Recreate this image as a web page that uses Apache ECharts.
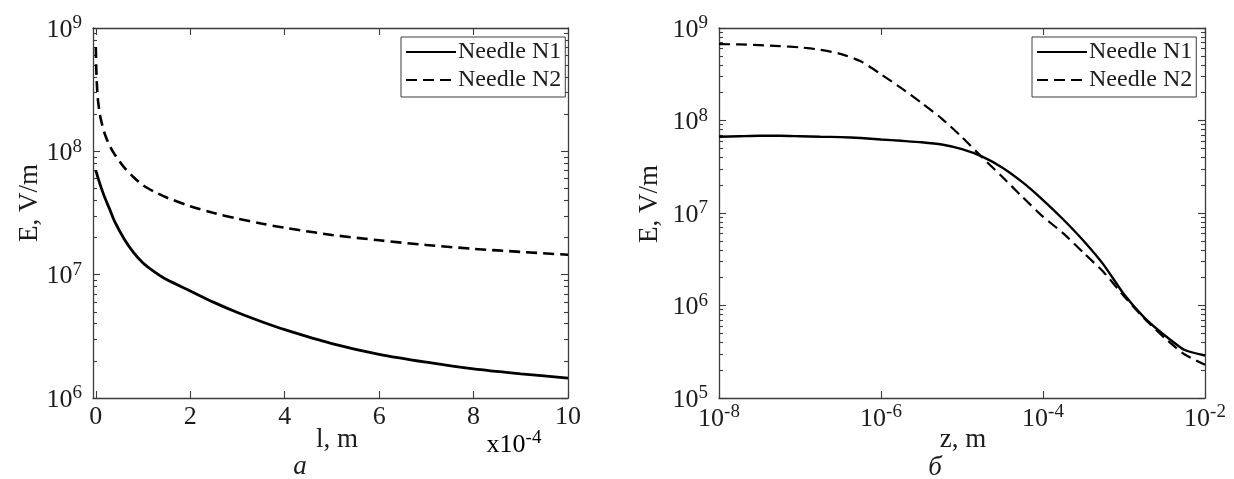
<!DOCTYPE html>
<html>
<head>
<meta charset="utf-8">
<script src="https://cdn.jsdelivr.net/npm/echarts@6/dist/echarts.min.js"></script>
<style>
  html, body { margin: 0; padding: 0; background: #ffffff; }
  #chart { width: 1234px; height: 479px; }
</style>
</head>
<body>
<div id="chart"></div>
<script>
// ---- Panel (а): field along the needle, l in units of 1e-4 m ----
const lenA = [0, 0.01, 0.03, 0.05, 0.1, 0.2, 0.3, 0.4, 0.6, 0.8, 1, 1.25, 1.5, 2, 2.5, 3, 3.5, 4, 5, 6, 7, 8, 9, 10];
const needle1A = [7.0e7, 6.79e7, 6.4e7, 6.03e7, 5.25e7, 4.12e7, 3.35e7, 2.69e7, 1.95e7, 1.51e7, 1.245e7, 1.05e7,
  9.12e6, 7.38e6, 5.96e6, 4.93e6, 4.17e6, 3.58e6, 2.76e6, 2.26e6, 1.95e6, 1.72e6, 1.57e6, 1.45e6];
const needle2A = [7.0e8, 4.57e8, 3.09e8, 2.51e8, 1.86e8, 1.35e8, 1.10e8, 9.44e7, 7.41e7, 6.17e7, 5.31e7, 4.68e7,
  4.22e7, 3.59e7, 3.16e7, 2.85e7, 2.60e7, 2.40e7, 2.10e7, 1.90e7, 1.74e7, 1.62e7, 1.53e7, 1.45e7];
const lenTicks = [0, 2, 4, 6, 8, 10];
const decadesA = [6, 7, 8, 9];

// ---- Panel (б): field versus distance z from the tip, m ----
const distZ = [1e-8, 1.78e-8, 3.16e-8, 5.62e-8, 1e-7, 1.78e-7, 3.16e-7, 5.62e-7, 1e-6, 1.78e-6, 3.16e-6, 5.62e-6,
  1e-5, 1.78e-5, 3.16e-5, 5.62e-5, 1e-4, 1.78e-4, 3.16e-4, 5.62e-4, 1e-3, 1.78e-3, 3.16e-3, 5.62e-3, 1e-2];
const needle1B = [6.68e7, 6.76e7, 6.84e7, 6.84e7, 6.76e7, 6.68e7, 6.61e7, 6.46e7, 6.24e7, 6.03e7, 5.82e7, 5.50e7,
  4.90e7, 4.07e7, 3.09e7, 2.14e7, 1.38e7, 8.51e6, 5.01e6, 2.75e6, 1.32e6, 7.41e5, 4.79e5, 3.30e5, 2.88e5];
const needle2B = [6.70e8, 6.64e8, 6.53e8, 6.38e8, 6.17e8, 5.82e8, 5.25e8, 4.37e8, 3.16e8, 2.24e8, 1.55e8, 1.05e8,
  6.61e7, 3.98e7, 2.45e7, 1.48e7, 9.12e6, 6.03e6, 3.72e6, 2.29e6, 1.26e6, 7.24e5, 4.47e5, 2.95e5, 2.29e5];
const decadesB = [5, 6, 7, 8, 9];

const seriesNames = ['Needle N1', 'Needle N2'];
const minorMantissas = [2, 3, 4, 5, 6, 7, 8, 9];

// ---- styling ----
const SERIF = 'Liberation Serif';
const INK = '#1c1c1c';
const FRAME = '#3c3c3c';
const LABEL_PX = 26;

const gridA = { left: 93, top: 28, width: 475, height: 370 };
const gridB = { left: 719, top: 28, width: 486, height: 370 };

// minor tick positions (2..9 within each decade) in exponent space
function minorPositions(decades) {
  const out = [];
  for (let i = 0; i < decades.length - 1; i++) {
    minorMantissas.forEach(m => out.push(decades[i] + Math.log10(m)));
  }
  return out;
}

const powRich = {
  b: { fontFamily: SERIF, fontSize: LABEL_PX, color: INK, verticalAlign: 'bottom', lineHeight: 30 },
  s: { fontFamily: SERIF, fontSize: 19, color: INK, verticalAlign: 'bottom', lineHeight: 30, padding: [0, 0, 10, 0] }
};
function powLabel(v) {
  const e = Math.round(Math.log10(v));
  return '{b|10}{s|' + e + '}';
}

const frameLine = { show: true, onZero: false, lineStyle: { color: FRAME, width: 1.3 } };
function ticks(len, extra) {
  return Object.assign({ show: true, inside: true, length: len, lineStyle: { color: FRAME, width: 1.1 } }, extra || {});
}
const noLabel = { show: false };
const noSplit = { show: false };

function logY(gridIndex, decades, position, withLabels) {
  return {
    type: 'log', gridIndex, position,
    min: Math.pow(10, decades[0]), max: Math.pow(10, decades[decades.length - 1]),
    axisLine: frameLine, splitLine: noSplit,
    axisTick: ticks(7),
    axisLabel: withLabels ? {
      show: true, margin: 11, formatter: powLabel, rich: powRich
    } : noLabel
  };
}
function minorY(gridIndex, decades, position) {
  return {
    type: 'value', gridIndex, position,
    min: decades[0], max: decades[decades.length - 1],
    axisLine: { show: false, onZero: false }, splitLine: noSplit, axisLabel: noLabel,
    axisTick: ticks(4, { customValues: minorPositions(decades) })
  };
}
function legendAt(left) {
  return {
    left, top: 37, orient: 'vertical', data: seriesNames,
    itemWidth: 50, itemHeight: 14, itemGap: 4,
    padding: [3, 4, 5, 4], borderColor: FRAME, borderWidth: 1, backgroundColor: '#ffffff',
    itemStyle: { opacity: 0 },
    textStyle: { fontFamily: SERIF, fontSize: 24, color: INK, padding: [0, 0, 0, -3] },
    selectedMode: false
  };
}

const option = {
  backgroundColor: '#ffffff',
  animation: false,
  textStyle: { fontFamily: SERIF },
  grid: [
    Object.assign({ containLabel: false }, gridA),
    Object.assign({ containLabel: false }, gridB)
  ],
  xAxis: [
    // panel а
    {
      type: 'value', gridIndex: 0, position: 'bottom', min: -0.06, max: 10,
      axisLine: frameLine, splitLine: noSplit,
      axisTick: ticks(7, { customValues: lenTicks }),
      axisLabel: {
        show: true, customValues: lenTicks, margin: 6,
        fontFamily: SERIF, fontSize: LABEL_PX, color: INK
      }
    },
    {
      type: 'value', gridIndex: 0, position: 'top', min: -0.06, max: 10,
      axisLine: frameLine, splitLine: noSplit,
      axisTick: ticks(7, { customValues: lenTicks }), axisLabel: noLabel
    },
    // panel б
    {
      type: 'log', logBase: 100, gridIndex: 1, position: 'bottom', min: 1e-8, max: 1e-2,
      axisLine: frameLine, splitLine: noSplit, axisTick: ticks(7),
      axisLabel: { show: true, margin: 4, formatter: powLabel, rich: powRich }
    },
    {
      type: 'log', logBase: 100, gridIndex: 1, position: 'top', min: 1e-8, max: 1e-2,
      axisLine: frameLine, splitLine: noSplit, axisTick: ticks(7), axisLabel: noLabel
    }
  ],
  yAxis: [
    logY(0, decadesA, 'left', true),
    logY(0, decadesA, 'right', false),
    minorY(0, decadesA, 'left'),
    minorY(0, decadesA, 'right'),
    logY(1, decadesB, 'left', true),
    logY(1, decadesB, 'right', false),
    minorY(1, decadesB, 'left'),
    minorY(1, decadesB, 'right')
  ],
  legend: [legendAt(401), legendAt(1032)],
  series: [
    {
      name: seriesNames[0], type: 'line', xAxisIndex: 0, yAxisIndex: 0, symbol: 'none', smooth: 0.3,
      lineStyle: { color: '#000', width: 2.8, type: 'solid' }, itemStyle: { color: '#000' },
      data: lenA.map((x, i) => [x, needle1A[i]])
    },
    {
      name: seriesNames[1], type: 'line', xAxisIndex: 0, yAxisIndex: 0, symbol: 'none', smooth: 0.3,
      lineStyle: { color: '#000', width: 2.6, type: [11, 6] }, itemStyle: { color: '#000' },
      data: lenA.map((x, i) => [x, needle2A[i]])
    },
    {
      name: seriesNames[0], type: 'line', xAxisIndex: 2, yAxisIndex: 4, symbol: 'none', smooth: 0.2,
      lineStyle: { color: '#000', width: 2.4, type: 'solid' }, itemStyle: { color: '#000' },
      data: distZ.map((z, i) => [z, needle1B[i]])
    },
    {
      name: seriesNames[1], type: 'line', xAxisIndex: 2, yAxisIndex: 4, symbol: 'none', smooth: 0.2,
      lineStyle: { color: '#000', width: 2.2, type: [11, 6] }, itemStyle: { color: '#000' },
      data: distZ.map((z, i) => [z, needle2B[i]])
    }
  ],
  graphic: [
    { type: 'text', x: 30, y: 203, rotation: Math.PI / 2,
      style: { text: 'E, V/m', font: '27px ' + SERIF, fill: INK, align: 'center', verticalAlign: 'middle' } },
    { type: 'text', x: 650, y: 204, rotation: Math.PI / 2,
      style: { text: 'E, V/m', font: '27px ' + SERIF, fill: INK, align: 'center', verticalAlign: 'middle' } },
    { type: 'text', x: 337, y: 440,
      style: { text: 'l, m', font: '27px ' + SERIF, fill: INK, align: 'center', verticalAlign: 'middle' } },
    { type: 'text', x: 514, y: 443,
      style: { text: '{b|x10}{s|-4}', rich: powRich, align: 'center', verticalAlign: 'middle' } },
    { type: 'text', x: 963, y: 440,
      style: { text: 'z, m', font: '27px ' + SERIF, fill: INK, align: 'center', verticalAlign: 'middle' } },
    { type: 'text', x: 300, y: 467,
      style: { text: 'а', font: 'italic 27px ' + SERIF, fill: INK, align: 'center', verticalAlign: 'middle' } },
    { type: 'text', x: 935, y: 468,
      style: { text: 'б', font: 'italic 27px ' + SERIF, fill: INK, align: 'center', verticalAlign: 'middle' } }
  ]
};

const chart = echarts.init(document.getElementById('chart'), null, { renderer: 'canvas' });
chart.setOption(option);
</script>
</body>
</html>
